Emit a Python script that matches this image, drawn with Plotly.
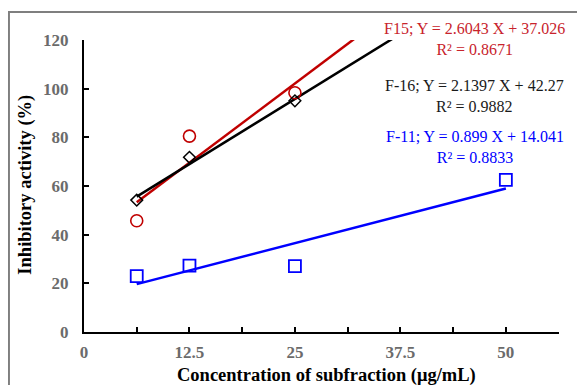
import plotly.graph_objects as go

# ---- data ----
conc = [6.25, 12.5, 25]
conc_f11 = [6.25, 12.5, 25, 50]
f15_vals = [45.7, 80.5, 98.3]
f16_vals = [54.2, 71.8, 95.0]
f11_vals = [23.0, 27.3, 27.1, 62.5]

f15_fit = (2.6043, 37.026)
f16_fit = (2.1397, 42.27)
f11_fit = (0.899, 14.041)
fit_x = [6.25, 50]

x_tickvals = [0, 12.5, 25, 37.5, 50]
x_ticktext = ["0", "12.5", "25", "37.5", "50"]
y_tickvals = [0, 20, 40, 60, 80, 100, 120]

eq_texts = [
    "F15; Y = 2.6043 X + 37.026<br>R² = 0.8671",
    "F-16; Y = 2.1397 X + 42.27<br>R² = 0.9882",
    "F-11; Y = 0.899 X + 14.041<br>R² = 0.8833",
]
x_title = "Concentration of subfraction (μg/mL)"
y_title = "Inhibitory activity (%)"

RED = "#C00000"
RED_TXT = "#C8232C"
BLUE = "#0000FF"
BLACK = "#000000"
FONT = "Liberation Serif, Times New Roman, serif"

def fit_line(fit):
    return [fit[0] * x + fit[1] for x in fit_x]

fig = go.Figure()

# trendlines
fig.add_trace(go.Scatter(x=fit_x, y=fit_line(f11_fit), mode="lines",
                         line=dict(color=BLUE, width=2.5), showlegend=False))
fig.add_trace(go.Scatter(x=fit_x, y=fit_line(f15_fit), mode="lines",
                         line=dict(color=RED, width=2.5), showlegend=False))
fig.add_trace(go.Scatter(x=fit_x, y=fit_line(f16_fit), mode="lines",
                         line=dict(color=BLACK, width=2.5), showlegend=False))

# markers
fig.add_trace(go.Scatter(x=conc_f11, y=f11_vals, mode="markers",
                         marker=dict(symbol="square-open", size=12, color=BLUE,
                                     line=dict(width=1.8, color=BLUE)),
                         showlegend=False, cliponaxis=False))
fig.add_trace(go.Scatter(x=conc, y=f15_vals, mode="markers",
                         marker=dict(symbol="circle-open", size=12, color=RED,
                                     line=dict(width=1.6, color=RED)),
                         showlegend=False, cliponaxis=False))
fig.add_trace(go.Scatter(x=conc, y=f16_vals, mode="markers",
                         marker=dict(symbol="diamond-open", size=9, color=BLACK,
                                     line=dict(width=1.5, color=BLACK)),
                         showlegend=False, cliponaxis=False))

ann_pos = [(0.823, 1.003, RED_TXT), (0.823, 0.808, "#1a1a1a"), (0.823, 0.633, BLUE)]
for txt, (ax, ay, col) in zip(eq_texts, ann_pos):
    fig.add_annotation(text=txt, xref="paper", yref="paper", x=ax, y=ay,
                       xanchor="center", yanchor="middle", showarrow=False,
                       align="center", font=dict(family=FONT, size=16, color=col))

# axis titles
fig.add_annotation(text="<b>" + x_title + "</b>", xref="paper", yref="paper",
                   x=0.51, y=-0.148, xanchor="center", yanchor="middle",
                   showarrow=False, font=dict(family=FONT, size=18.5, color="black"))
fig.add_annotation(text="<b>" + y_title + "</b>", xref="paper", yref="paper",
                   x=-0.124, y=0.505, xanchor="center", yanchor="middle", textangle=-90,
                   showarrow=False, font=dict(family=FONT, size=18.5, color="black"))

# outer gray frame
fig.add_shape(type="rect", xref="paper", yref="paper",
              x0=-0.158, x1=1.3, y0=-0.4, y1=1.096,
              line=dict(color="#7F7F7F", width=2), layer="below")

fig.update_layout(
    width=577, height=377,
    margin=dict(l=76, r=26, t=32, b=53),
    paper_bgcolor="white", plot_bgcolor="white",
    font=dict(family=FONT),
    xaxis=dict(range=[0, 56.3], tickvals=x_tickvals, ticktext=x_ticktext,
               automargin=False,
               showgrid=False, zeroline=False, showline=True, linecolor="black",
               linewidth=2, ticks="inside", ticklen=5, tickwidth=2, tickcolor="black",
               minor=dict(tickvals=[6.25, 18.75, 31.25, 43.75, 56.25], ticks="inside",
                          ticklen=5, tickwidth=2, tickcolor="black", showgrid=False),
               tickfont=dict(family=FONT, size=17, color="#6b6b6b", weight="bold"),
               ticklabelstandoff=4),
    yaxis=dict(range=[0, 120], tickvals=y_tickvals, automargin=False,
               showgrid=False, zeroline=False, showline=True, linecolor="black",
               linewidth=2, ticks="inside", ticklen=5, tickwidth=2, tickcolor="black",
               tickfont=dict(family=FONT, size=17, color="#6b6b6b", weight="bold"),
               ticklabelstandoff=10),
)

fig.write_html("out.html")
